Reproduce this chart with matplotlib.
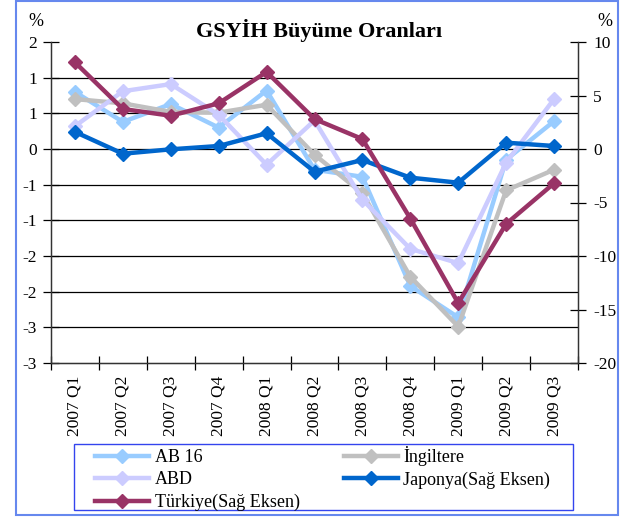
import numpy as np
import matplotlib
matplotlib.use('Agg')
import matplotlib.pyplot as plt
from matplotlib.ticker import FuncFormatter
from matplotlib.patches import Rectangle

plt.rcParams['font.family'] = ['Liberation Serif', 'DejaVu Serif']
plt.rcParams['axes.unicode_minus'] = False

quarters = ['2007 Q1', '2007 Q2', '2007 Q3', '2007 Q4', '2008 Q1', '2008 Q2',
            '2008 Q3', '2008 Q4', '2009 Q1', '2009 Q2', '2009 Q3']
# left axis (%)
ab16 = [0.80, 0.38, 0.63, 0.30, 0.82, -0.29, -0.39, -1.92, -2.36, -0.15, 0.39]
ingiltere = [0.70, 0.64, 0.52, 0.51, 0.62, -0.08, -0.62, -1.79, -2.49, -0.58, -0.29]
abd = [0.32, 0.81, 0.91, 0.48, -0.22, 0.40, -0.71, -1.40, -1.60, -0.19, 0.70]
# right axis (%)
japonya = [1.6, -0.44, -0.03, 0.28, 1.47, -2.12, -1.03, -2.68, -3.15, 0.59, 0.28]
turkiye = [8.1, 3.74, 3.11, 4.27, 7.2, 2.8, 0.93, -6.5, -14.4, -7.0, -3.2]

W, H = 636, 517
fig = plt.figure(figsize=(W / 100, H / 100), dpi=100)
ax = fig.add_axes([51 / W, 1 - 363 / H, 527 / W, 321 / H])
ax2 = ax.twinx()

x = np.arange(len(quarters))
lw, ms = 3.2, 7.5
h_ab, = ax.plot(x, ab16, color='#99CCFF', lw=lw, marker='D', ms=ms, label='AB 16', zorder=3)
h_uk, = ax.plot(x, ingiltere, color='#C0C0C0', lw=lw, marker='D', ms=ms, label='İngiltere', zorder=4)
h_us, = ax.plot(x, abd, color='#CCCCFF', lw=lw, marker='D', ms=ms, label='ABD', zorder=5)
h_jp, = ax2.plot(x, japonya, color='#0066CC', lw=lw, marker='D', ms=ms, label='Japonya(Sağ Eksen)', zorder=3)
h_tr, = ax2.plot(x, turkiye, color='#993366', lw=lw, marker='D', ms=ms, label='Türkiye(Sağ Eksen)', zorder=4)

# left axis
ax.set_ylim(-3, 1.5)
ax.set_xlim(-0.5, len(quarters) - 0.5)
ax.set_yticks(np.arange(-3, 1.51, 0.5))


def round_fmt(v, pos):
    r = int(np.sign(v) * np.floor(abs(v) + 0.5))
    return str(r)


ax.yaxis.set_major_formatter(FuncFormatter(round_fmt))
ax.hlines(np.arange(-2.5, 1.01, 0.5), -0.5, len(quarters) - 0.5, color='black', lw=0.9, zorder=1)

# right axis
ax2.set_ylim(-20, 10)
ax2.set_yticks(range(-20, 11, 5))

# x axis: ticks at category boundaries, labels in the middle
ax.set_xticks(np.arange(-0.5, len(quarters), 1))
ax.set_xticklabels([])
ax.set_xticks(x, minor=True)
ax.set_xticklabels(quarters, minor=True, rotation=90, fontsize=12.5)
ax.tick_params(axis='x', which='major', direction='inout', length=10, width=0.9)
ax.tick_params(axis='x', which='minor', length=0, pad=9)
ax.tick_params(axis='y', direction='inout', length=12, width=0.9, labelsize=12.5, pad=4)
ax2.tick_params(axis='y', direction='inout', length=12, width=0.9, labelsize=12.5, pad=5)

for a in (ax, ax2):
    a.spines['top'].set_visible(False)
    for s in ('left', 'right', 'bottom'):
        a.spines[s].set_linewidth(0.9)
        a.spines[s].set_color('#333333')
ax.spines['bottom'].set_color('black')

fig.text(319 / W, 1 - 30 / H, 'GSYİH Büyüme Oranları', ha='center', va='center',
         fontsize=16, fontweight='bold')
fig.text(36 / W, 1 - 22 / H, '%', ha='center', va='center', fontsize=13)
fig.text(605 / W, 1 - 22 / H, '%', ha='center', va='center', fontsize=13)

leg = fig.legend(handles=[h_ab, h_us, h_tr, h_uk, h_jp], ncol=2, loc='upper left',
                 bbox_to_anchor=(95 / W, 1 - 446 / H), frameon=False, borderpad=0,
                 handlelength=3.0, handletextpad=0.3, columnspacing=2.45,
                 labelspacing=0.3, fontsize=13, borderaxespad=0)

fig.patches.append(Rectangle((74 / W, 1 - 510 / H), 499 / W, 66 / H, transform=fig.transFigure,
                             fill=False, ec='#3344EE', lw=1))
fig.patches.append(Rectangle((16 / W, 1 - 515 / H), 602 / W, 514 / H, transform=fig.transFigure,
                             fill=False, ec='#6688EE', lw=1.5))

fig.savefig('out.png', dpi=100, facecolor='white')
